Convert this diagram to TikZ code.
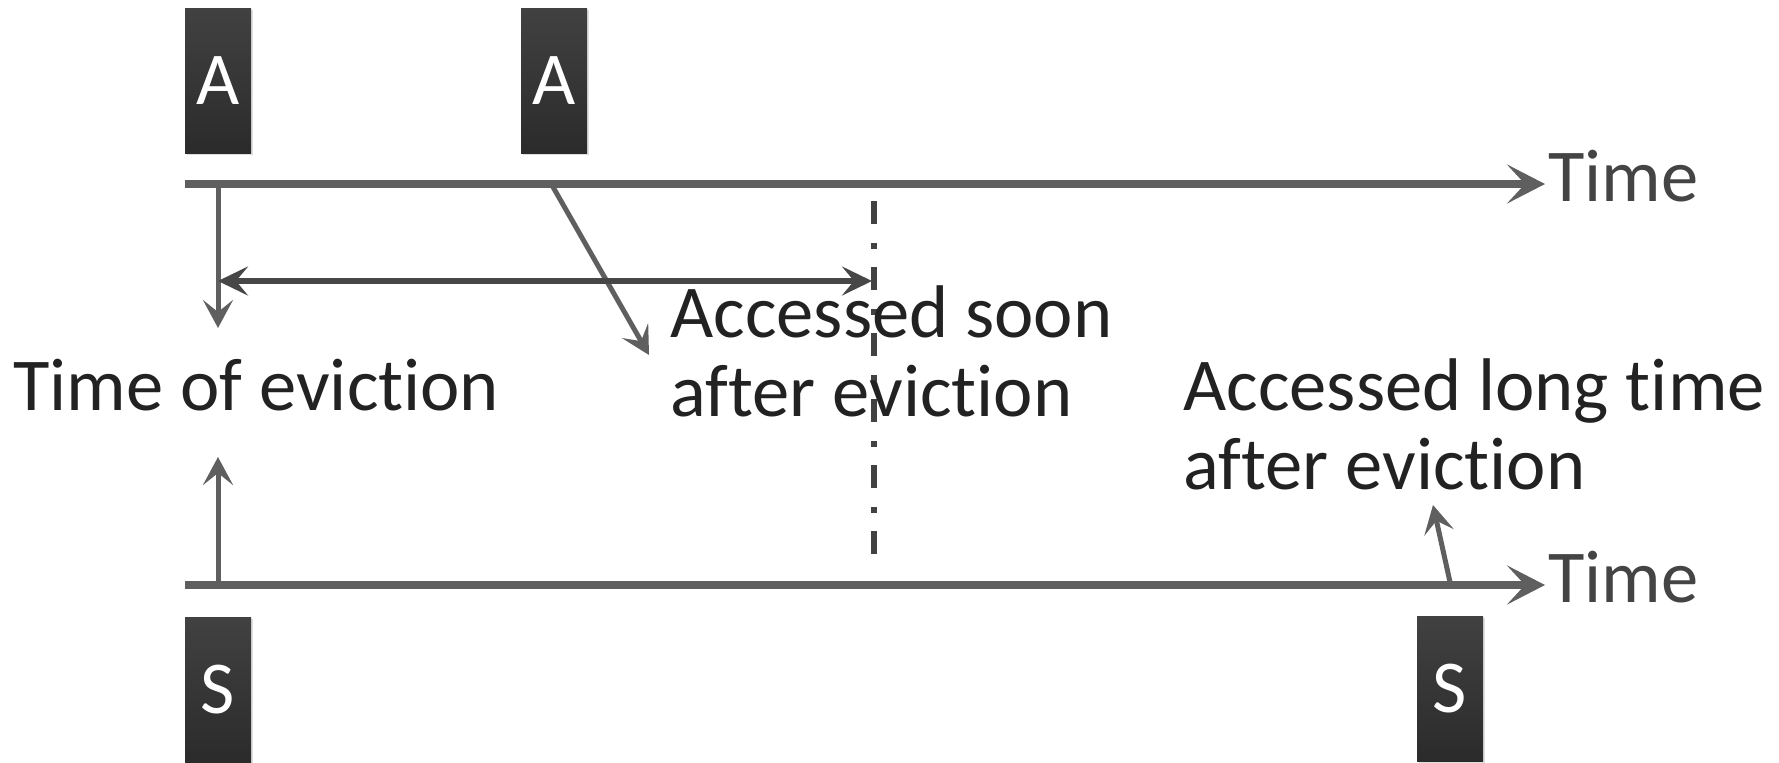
\documentclass[tikz,border=0pt]{standalone}
\usepackage{fontspec}
\setmainfont{Carlito}[Ligatures={NoCommon,NoContextual}]
\usetikzlibrary{arrows.meta,shadows}
\definecolor{axis}{HTML}{5F5F5F}
\definecolor{darkarr}{HTML}{474747}
\definecolor{dashc}{HTML}{424242}
\definecolor{txt}{HTML}{222222}
\definecolor{timetxt}{HTML}{444444}
\definecolor{boxtop}{HTML}{414141}
\definecolor{boxbot}{HTML}{2B2B2B}
\tikzset{
  evbox/.style={minimum width=33pt, minimum height=72.5pt, inner sep=0pt,
    top color=boxtop, bottom color=boxbot, draw=none,
    drop shadow={opacity=0.25, shadow xshift=0.8pt, shadow yshift=-0.8pt},
    text=white, font=\fontsize{37.3}{39.5}\selectfont},
  timeline/.style={draw=axis, line width=4pt,
    -{Stealth[length=19pt, width=19.5pt, inset=9pt]}},
  thinarr/.style={draw=axis, line width=2.5pt,
    -{Stealth[length=14pt, width=15pt, inset=6pt]}},
  spanarr/.style={draw=darkarr, line width=3pt,
    {Stealth[length=15pt, width=14.5pt, inset=6pt]}-{Stealth[length=15pt, width=14.5pt, inset=6pt]}},
  dashline/.style={draw=dashc, line width=3pt,
    dash pattern=on 11.5pt off 9.5pt on 3pt off 9pt},
  lbl/.style={inner sep=0pt, anchor=base west, text=txt, align=left,
    font=\fontsize{37.3}{39.5}\selectfont},
  timelbl/.style={inner sep=0pt, anchor=base west, text=timetxt,
    font=\fontsize{37.3}{39.5}\selectfont},
}
\begin{document}
\begin{tikzpicture}[x=0.5pt, y=-0.5pt]
\useasboundingbox (0,0) rectangle (1779,762);
% boxes
\node[evbox] (a1) at (218,81) {A};
\node[evbox] (a2) at (554,80.5) {A};
\node[evbox] (s1) at (218,690) {S};
\node[evbox] (s2) at (1450,689) {S};
% coordinates
\coordinate (t1s) at (185,184);
\coordinate (t1e) at (1545,184);
\coordinate (t2s) at (185,585);
\coordinate (t2e) at (1545,585);
\coordinate (d1s) at (218,188);
\coordinate (d1e) at (218,328);
\coordinate (u1s) at (218,585);
\coordinate (u1e) at (218,457);
\coordinate (spl) at (218,281);
\coordinate (spr) at (872,281);
\coordinate (dgs) at (553,187);
\coordinate (dge) at (649,355);
\coordinate (dsh1) at (874,201);
\coordinate (dsh2) at (874,555);
\coordinate (sms) at (1450,582);
\coordinate (sme) at (1433,505);
% timelines
\draw[timeline] (t1s) -- (t1e);
\draw[timeline] (t2s) -- (t2e);
\node[timelbl] (time1) at (1548,201) {Time};
\node[timelbl] (time2) at (1548,602) {Time};
% arrows
\draw[thinarr] (d1s) -- (d1e);
\draw[thinarr] (u1s) -- (u1e);
\draw[thinarr] (dgs) -- (dge);
\draw[thinarr] (sms) -- (sme);
\draw[spanarr] (spl) -- (spr);
\draw[dashline] (dsh1) -- (dsh2);
% labels
\node[lbl] (evict) at (13,410) {Time of eviction};
\node[lbl] (soon) at (670,416) {Accessed soon\\after eviction};
\node[lbl] (long) at (1183,489) {Accessed long time\\after eviction};
\end{tikzpicture}
\end{document}
